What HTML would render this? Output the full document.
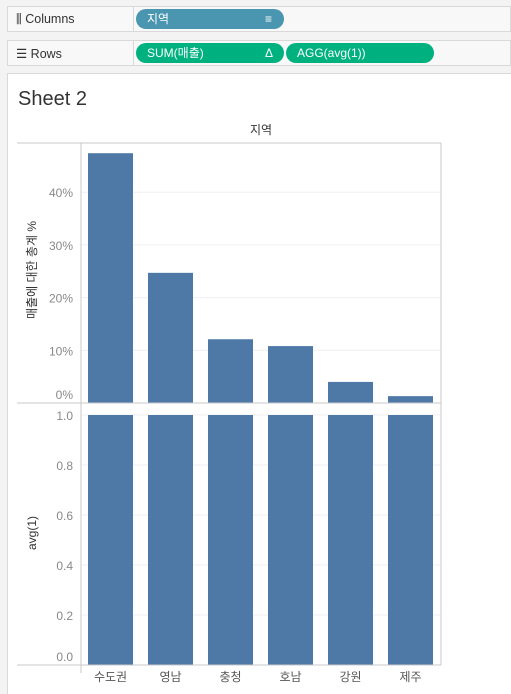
<!DOCTYPE html>
<html><head><meta charset="utf-8"><style>
body{margin:0;width:511px;height:693px;overflow:hidden;background:#f3f3f3;font-family:"Liberation Sans","Noto Sans CJK KR",sans-serif;position:relative}
.shelf{position:absolute;left:7px;width:504px;height:26px;background:#f8f8f8;border:1px solid #d9d9d9;box-sizing:border-box}
.lab{position:absolute;left:8px;top:5px;font-size:12.5px;color:#333}
.div{position:absolute;left:125px;top:0;width:1px;height:100%;background:#d9d9d9}
.pill{position:absolute;height:20px;border-radius:10px;color:#fff;font-size:12px;line-height:20px;box-sizing:border-box;padding-left:11px}
#sheet{position:absolute;left:7px;top:73px;width:504px;height:620px;background:#fff;border-left:1px solid #d9d9d9;border-top:1px solid #d9d9d9}
</style></head><body>
<div class="shelf" style="top:6px"><span class="lab">⫼ Columns</span><div class="div"></div>
<div class="pill" style="left:128px;top:2px;width:148px;background:#4a96b0">지역<span style="position:absolute;right:12px;top:0">≡</span></div></div>
<div class="shelf" style="top:40px"><span class="lab">☰ Rows</span><div class="div"></div>
<div class="pill" style="left:128px;top:2px;width:148px;background:#00b180">SUM(매출)<span style="position:absolute;right:11px;top:0">Δ</span></div>
<div class="pill" style="left:278px;top:2px;width:148px;background:#00b180">AGG(avg(1))</div></div>
<div id="sheet"></div>
<div style="position:absolute;left:18px;top:88px;font-size:20px;color:#333">Sheet 2</div>
<svg id="c" width="511" height="693" style="position:absolute;left:0;top:0"></svg>
<script>
const categories=["수도권","영남","충청","호남","강원","제주"];
const pctValues=[47.4,24.7,12.1,10.8,4.0,1.3];
const avgValues=[1,1,1,1,1,1];
const pctTicks=[0,10,20,30,40];
const avgTicks=[0,0.2,0.4,0.6,0.8,1.0];
const svg=document.getElementById('c');const NS='http://www.w3.org/2000/svg';
function el(t,a,txt){const e=document.createElementNS(NS,t);for(const k in a)e.setAttribute(k,a[k]);if(txt!==undefined)e.textContent=txt;svg.appendChild(e);return e;}
const L=81,R=441,bandW=(R-L)/categories.length;
const x=i=>L+i*bandW+7;
const yTop=v=>403-v*5.27;
const yBot=v=>665-v*250;
// gridlines
pctTicks.forEach(t=>{const g=el('line',{x1:L,x2:R,y1:yTop(t),y2:yTop(t),stroke:'#efefef'});


const lb=el('text',{x:73,y:Math.min(yTop(t)+5,399),'text-anchor':'end','font-size':12,fill:'#888'},t+'%');

});
avgTicks.forEach(t=>{const g=el('line',{x1:L,x2:R,y1:yBot(t),y2:yBot(t),stroke:'#efefef'});


const lb=el('text',{x:73,y:Math.min(Math.max(yBot(t)+5,420),661),'text-anchor':'end','font-size':12,fill:'#888'},t.toFixed(1));

});
categories.forEach((c,i)=>{
const b=el('rect',{x:x(i),width:45,y:yTop(pctValues[i]),height:403-yTop(pctValues[i]),fill:'#4e79a7'});


const b2=el('rect',{x:x(i),width:45,y:yBot(avgValues[i]),height:665-yBot(avgValues[i]),fill:'#4e79a7'});


const t=el('text',{x:x(i)+22.5,y:681,'text-anchor':'middle','font-size':12,fill:'#555'},c);


});
[[17,143,441,143],[17,403,441,403],[17,665,441,665],[81,143,81,673],[441,143,441,665]].forEach(a=>{const l=el('line',{x1:a[0],y1:a[1],x2:a[2],y2:a[3],stroke:'#c8c8c8'});

});
const h=el('text',{x:261,y:134,'text-anchor':'middle','font-size':12,fill:'#333'},'지역');


const t1=el('text',{x:0,y:0,'text-anchor':'middle','font-size':12,fill:'#333',transform:'translate(36,270) rotate(-90)'},'매출에 대한 총계 %');


const t2=el('text',{x:0,y:0,'text-anchor':'middle','font-size':12,fill:'#333',transform:'translate(36,533) rotate(-90)'},'avg(1)');


</script>
</body></html>
